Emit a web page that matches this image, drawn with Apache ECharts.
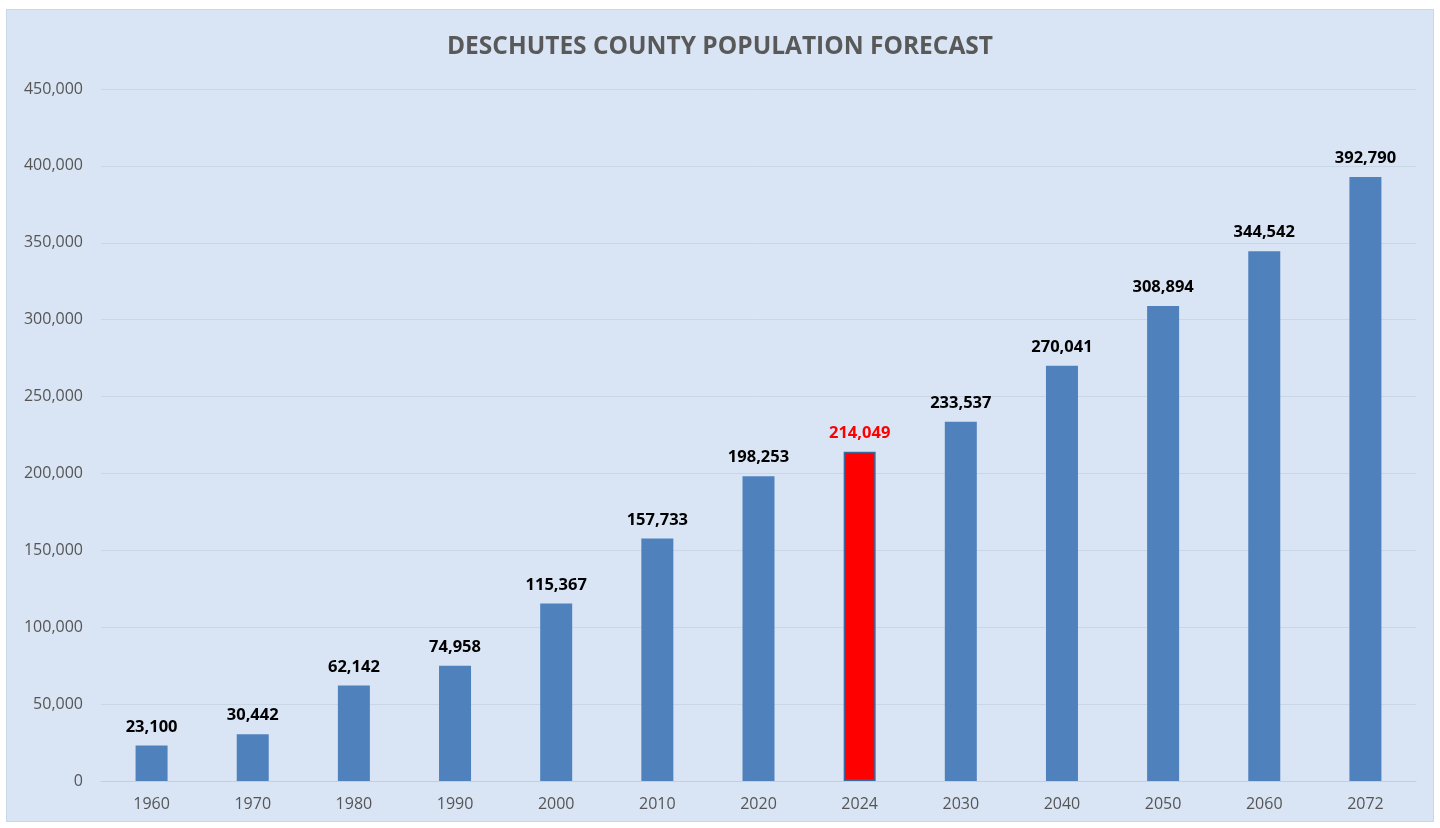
<!DOCTYPE html>
<html><head><meta charset="utf-8">
<script src="https://cdn.jsdelivr.net/npm/echarts@6/dist/echarts.min.js"></script>
<style>
html,body{margin:0;padding:0;background:#fff;width:1440px;height:828px;overflow:hidden}
#c{position:absolute;left:6px;top:9px;width:1428px;height:813px;background:#d9e5f4;border:1px solid #c9d7e8;box-sizing:border-box}
</style></head><body>
<div id="c"></div>
<script>
const years = ['1960','1970','1980','1990','2000','2010','2020','2024','2030','2040','2050','2060','2072'];
const population = [23100,30442,62142,74958,115367,157733,198253,214049,233537,270041,308894,344542,392790];
const highlightYear = '2024';
const yTicks = [0,50000,100000,150000,200000,250000,300000,350000,400000,450000];

const chart = echarts.init(document.getElementById('c'));
const fmt = v => v.toLocaleString('en-US');
chart.setOption({
  animation:false,
  title:{text:'DESCHUTES COUNTY POPULATION FORECAST',left:'center',top:20,
    textStyle:{fontFamily:'Open Sans',fontWeight:'bold',fontSize:24.5,color:'#595959'}},
  grid:{left:94,right:17,top:79,bottom:40},
  xAxis:{type:'category',data:years,
    axisLine:{lineStyle:{color:'#bcd0e6'}},axisTick:{show:false},
    axisLabel:{fontFamily:'Open Sans',fontSize:16,color:'#555555',margin:15}},
  yAxis:{type:'value',min:yTicks[0],max:yTicks[yTicks.length-1],interval:yTicks[1]-yTicks[0],
    axisLine:{show:false},axisTick:{show:false},
    splitLine:{lineStyle:{color:'#c8d6e6',width:1}},
    axisLabel:{fontFamily:'Open Sans',fontSize:16,color:'#555555',margin:18,formatter:v=>fmt(v)}},
  series:[{type:'bar',barWidth:32,
    data:population.map((v,i)=>years[i]===highlightYear?
      {value:v,itemStyle:{color:'#ff0000',borderColor:'#3a6aa0',borderWidth:1.5},
       label:{color:'#ff0000'}}:{value:v}),
    itemStyle:{color:'#4f81bd'},
    label:{show:true,position:'top',distance:10,fontFamily:'Open Sans',fontWeight:'bold',fontSize:16.5,color:'#000',
      formatter:p=>fmt(p.value)}}]
});
</script></body></html>
